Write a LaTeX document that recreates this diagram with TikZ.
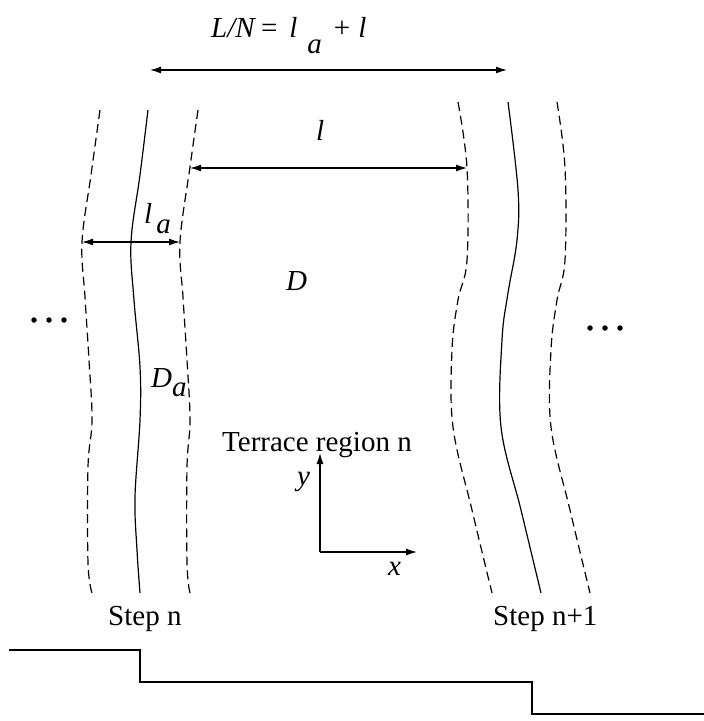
\documentclass[tikz,border=0pt]{standalone}
\usepackage{fontspec}
\setmainfont{Liberation Serif}
\usetikzlibrary{arrows.meta}
\begin{document}
\begin{tikzpicture}[x=1pt,y=-1pt,
  lbl/.style={inner sep=0pt,anchor=base west,font=\fontsize{29}{34}\selectfont},
  stepline/.style={line width=1.2pt,smooth,tension=0.6},
  edgeline/.style={line width=1.2pt,dash pattern=on 9pt off 5pt,smooth,tension=0.6},
  dimarrow/.style={line width=1.3pt,{Latex[length=11pt,width=7pt]}-{Latex[length=11pt,width=7pt]}},
  axarrow/.style={line width=1.3pt,-{Latex[length=11pt,width=7pt]}},
  dotmark/.style={circle,fill=black,inner sep=0pt,minimum size=5.5pt}]
\useasboundingbox (0,0) rectangle (704,721);
% step n
\draw[stepline] plot coordinates {(148,110) (140,175) (131,242) (134,300) (140,367) (140,420) (135,497) (137,550) (140,593)};
\draw[edgeline] plot coordinates {(100,110) (91,175) (82,242) (85,297) (89,360) (92,420) (88,467) (88,563) (92,593)};
\draw[edgeline] plot coordinates {(198,110) (190,167) (180,242) (183,297) (187,360) (190,420) (187,467) (187,563) (190,593)};
% step n+1
\draw[edgeline] plot coordinates {(458,102) (467,168) (467,260) (458,300) (452,350) (453,427) (472,510) (492,593)};
\draw[stepline] plot coordinates {(508,102) (518,190) (517,240) (508,293) (502,340) (501,427) (521,510) (541,593)};
\draw[edgeline] plot coordinates {(557,102) (565,168) (565,260) (557,300) (551,350) (551,427) (570,510) (590,593)};
% dimension arrows
\coordinate (tl) at (150,70);
\coordinate (tr) at (507,70);
\coordinate (ll) at (190,168);
\coordinate (lr) at (467,168);
\coordinate (al) at (82,242);
\coordinate (ar) at (180,242);
\draw[dimarrow] (tl) -- (tr);
\draw[dimarrow] (ll) -- (lr);
\draw[dimarrow] (al) -- (ar);
% labels
\node[lbl,font=\fontsize{29}{34}\selectfont] (LN) at (211,37) {\textit{L/N}\hspace{5pt}=\hspace{12pt}\textit{l}\hspace{10pt}\raisebox{-16pt}{\textit{a}}\hspace{12pt}+\hspace{8pt}\textit{l}};
\node[lbl] (lbl-l) at (316,140) {\textit{l}};
\node[lbl] (lbl-la) at (144,223) {\textit{l}\hspace{4pt}\raisebox{-10pt}{\textit{a}}};
\node[lbl] (lbl-D) at (286,290) {\textit{D}};
\node[lbl] (lbl-Da) at (151,387) {\textit{D}\raisebox{-9pt}{\textit{a}}};
\node[lbl] (terr) at (222,451) {Terrace region n};
\node[lbl] (stepn) at (108,625) {Step n};
\node[lbl] (stepn1) at (493,625) {Step n+1};
% axes
\coordinate (O) at (320,552);
\coordinate (Y) at (320,453);
\coordinate (X) at (417,552);
\draw[axarrow] (O) -- (Y);
\draw[axarrow] (O) -- (X);
\node[lbl] (ylab) at (297,485) {\textit{y}};
\node[lbl] (xlab) at (388,575) {\textit{x}};
% dots
\node[dotmark] (d1) at (34,320) {};
\node[dotmark] (d2) at (49,320) {};
\node[dotmark] (d3) at (64,320) {};
\node[dotmark] (d4) at (590,328) {};
\node[dotmark] (d5) at (605,328) {};
\node[dotmark] (d6) at (620,328) {};
% staircase profile
\coordinate (s0) at (9,650);
\coordinate (s1) at (140,650);
\coordinate (s2) at (140,682);
\coordinate (s3) at (532,682);
\coordinate (s4) at (532,714);
\coordinate (s5) at (704,714);
\draw[line width=1.2pt] (s0) -- (s1) -- (s2) -- (s3) -- (s4) -- (s5);
\end{tikzpicture}
\end{document}
